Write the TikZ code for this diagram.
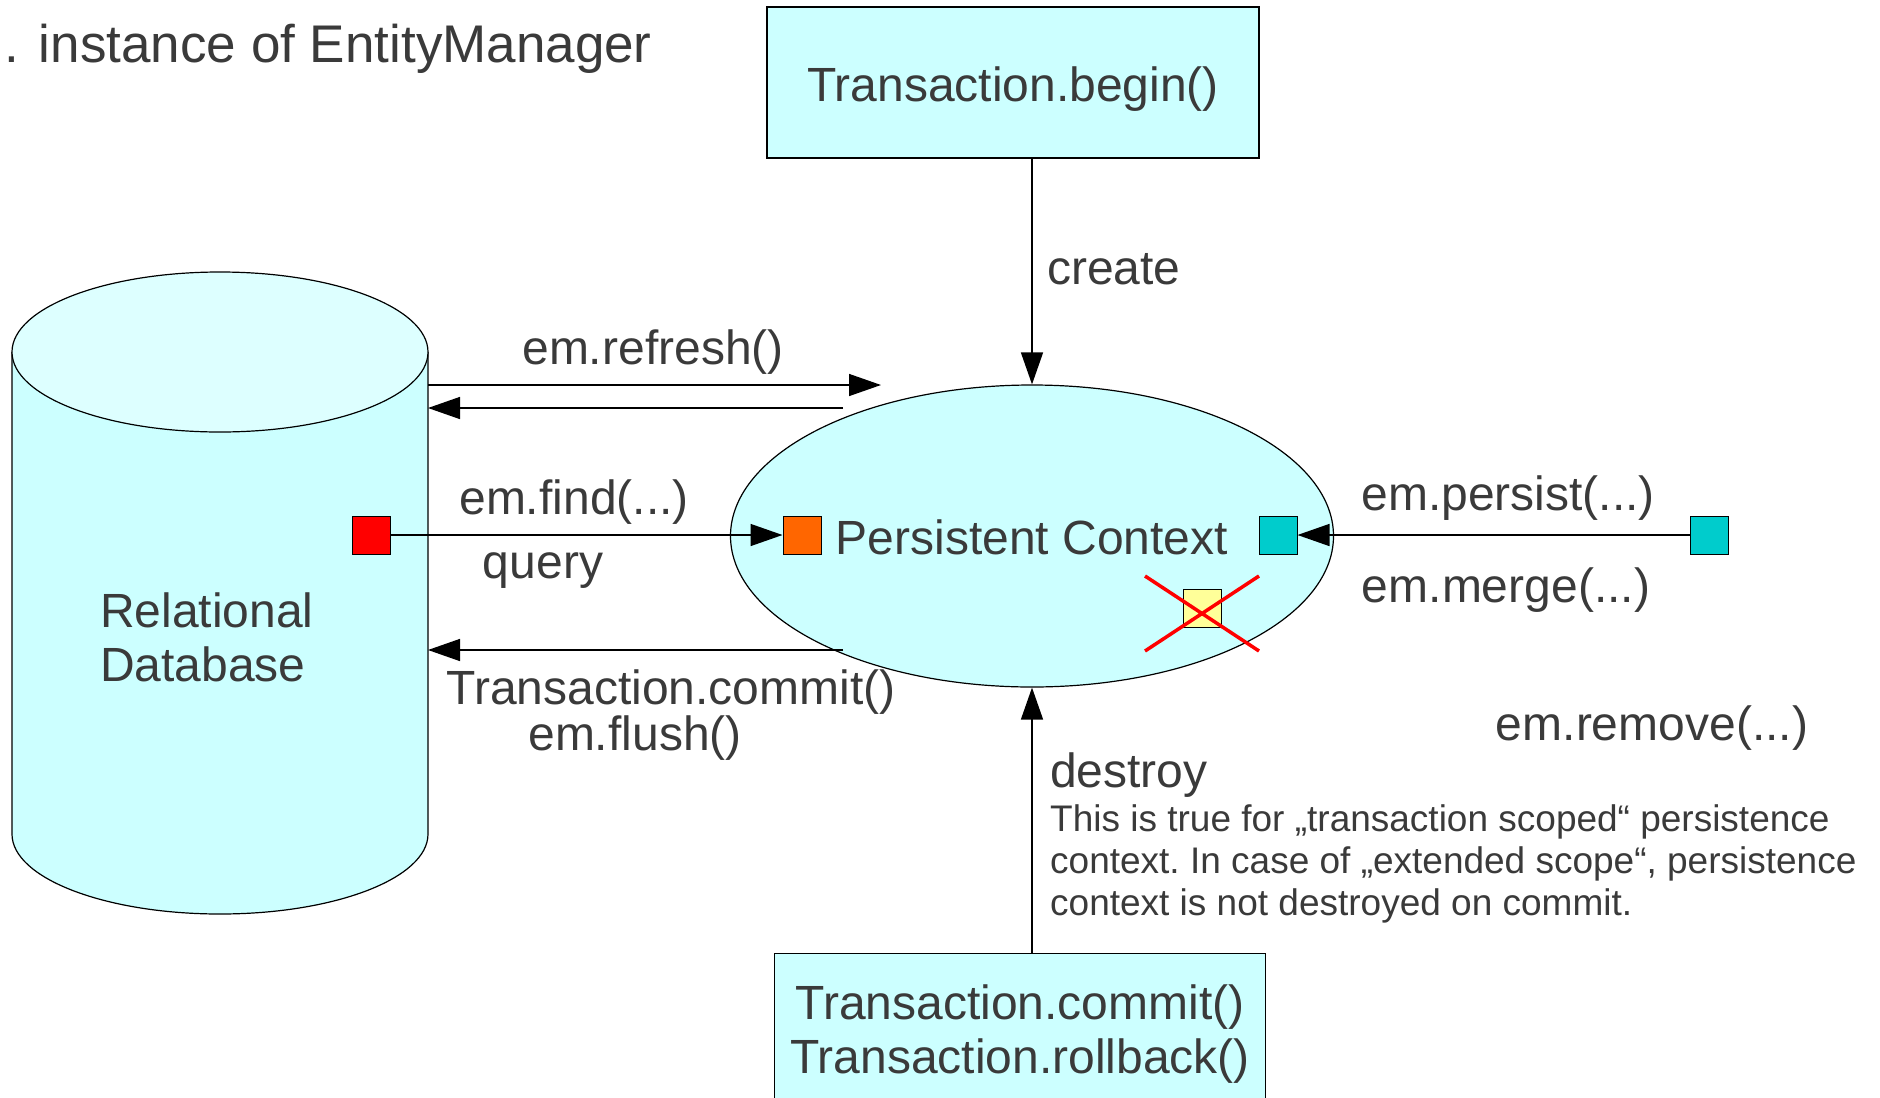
\documentclass[tikz,border=0pt]{standalone}
\usepackage{fontspec}
\setmainfont{Liberation Sans}
\usetikzlibrary{arrows.meta,shapes.geometric}
\definecolor{cyanfill}{HTML}{CCFFFF}
\definecolor{toplight}{HTML}{DDFFFF}
\definecolor{txt}{HTML}{3A3A3A}
\definecolor{sqcyan}{HTML}{00CCCC}
\definecolor{sqorange}{HTML}{FF6600}
\definecolor{sqyellow}{HTML}{FFFF99}
\frenchspacing
\begin{document}
\begin{tikzpicture}[x=1pt,y=-1pt,
  lbl/.style={text=txt, font=\fontsize{48}{54}\selectfont, inner sep=0pt},
  note/.style={text=txt, font=\fontsize{37}{42}\selectfont, inner sep=0pt, align=left},
  conn/.style={line width=1.5pt, draw=black, -{Triangle[length=32pt,width=22pt]}},
  sq/.style={draw=black, line width=1pt, minimum size=38pt, inner sep=0pt},
  box/.style={draw=black, line width=1.2pt, fill=cyanfill, inner sep=0pt}]
\useasboundingbox (0,0) rectangle (1880,1098);
\fill[white] (0,0) rectangle (1880,1098);

% title
\node[lbl, font=\fontsize{53}{60}\selectfont, anchor=west] (title) at (4,49) {.\hspace{20pt}instance of EntityManager};

% cylinder (relational database)
\fill[cyanfill] (12,352) -- (12,834) arc[start angle=180, end angle=360, x radius=208pt, y radius=80pt] -- (428,352) -- cycle;
\draw[line width=1.2pt] (12,352) -- (12,834) arc[start angle=180, end angle=360, x radius=208pt, y radius=80pt] -- (428,352);
\draw[line width=1.2pt, fill=toplight] (220,352) ellipse[x radius=208pt, y radius=80pt];
\node[lbl, align=left, anchor=west] (dblbl) at (100,637) {Relational\\Database};

% boxes
\node[box, minimum width=492pt, minimum height=151pt] (tb) at (1013,82.5) {};
\node[lbl] (tblbl) at (1013,89) {Transaction.begin()};
\node[box, minimum width=491pt, minimum height=160pt, anchor=north] (bb) at (1020,953) {};
\node[lbl, align=center] (bblbl) at (1020,1034) {Transaction.commit()\\Transaction.rollback()};

% persistent context
\node[ellipse, draw=black, line width=1.2pt, fill=cyanfill, minimum width=603pt, minimum height=302pt, inner sep=0pt] (pc) at (1032,536) {};
\node[lbl] (pclbl) at (1032,537) {Persistent Context};

% squares
\node[sq, fill=red] (red) at (371,535) {};
\node[sq, fill=sqorange] (org) at (802,535) {};
\node[sq, fill=sqcyan] (cyi) at (1278,535) {};
\node[sq, fill=sqcyan] (cyo) at (1709,535) {};
\node[sq, fill=sqyellow] (yel) at (1202,608) {};
\draw[red, line width=3.5pt] (1145,576) -- (1259,651) (1145,651) -- (1259,576);

% connectors
\coordinate (dbA) at (428,385); \coordinate (refA) at (881,385);
\coordinate (refB) at (843,408); \coordinate (dbB) at (428,408);
\coordinate (comA) at (843,650); \coordinate (dbC) at (428,650);
\draw[conn] (dbA) -- (refA);
\draw[conn] (refB) -- (dbB);
\draw[conn] (comA) -- (dbC);
\draw[conn] (red.east) -- (org.west);
\draw[conn] (cyo.west) -- (cyi.east);
\draw[conn] (tb.south -| pc.north) -- (pc.north);
\draw[conn] (bb.north -| pc.south) -- (pc.south);

% labels
\node[lbl, anchor=west] (create) at (1047,269) {create};
\node[lbl] (refresh) at (653,352) {em.refresh()};
\node[lbl] (find) at (574,502) {em.find(...)};
\node[lbl] (query) at (543,571) {query};
\node[lbl] (persist) at (1508,498) {em.persist(...)};
\node[lbl] (merge) at (1506,590) {em.merge(...)};
\node[lbl] (commit) at (671,692) {Transaction.commit()};
\node[lbl] (flush) at (635,738) {em.flush()};
\node[lbl] (remove) at (1652,728) {em.remove(...)};
\node[lbl, anchor=west] (destroy) at (1050,775) {destroy};
\node[note, anchor=north west] (notelbl) at (1050,804) {This is true for „transaction scoped“ persistence\\context. In case of „extended scope“, persistence\\context is not destroyed on commit.};
\end{tikzpicture}
\end{document}
